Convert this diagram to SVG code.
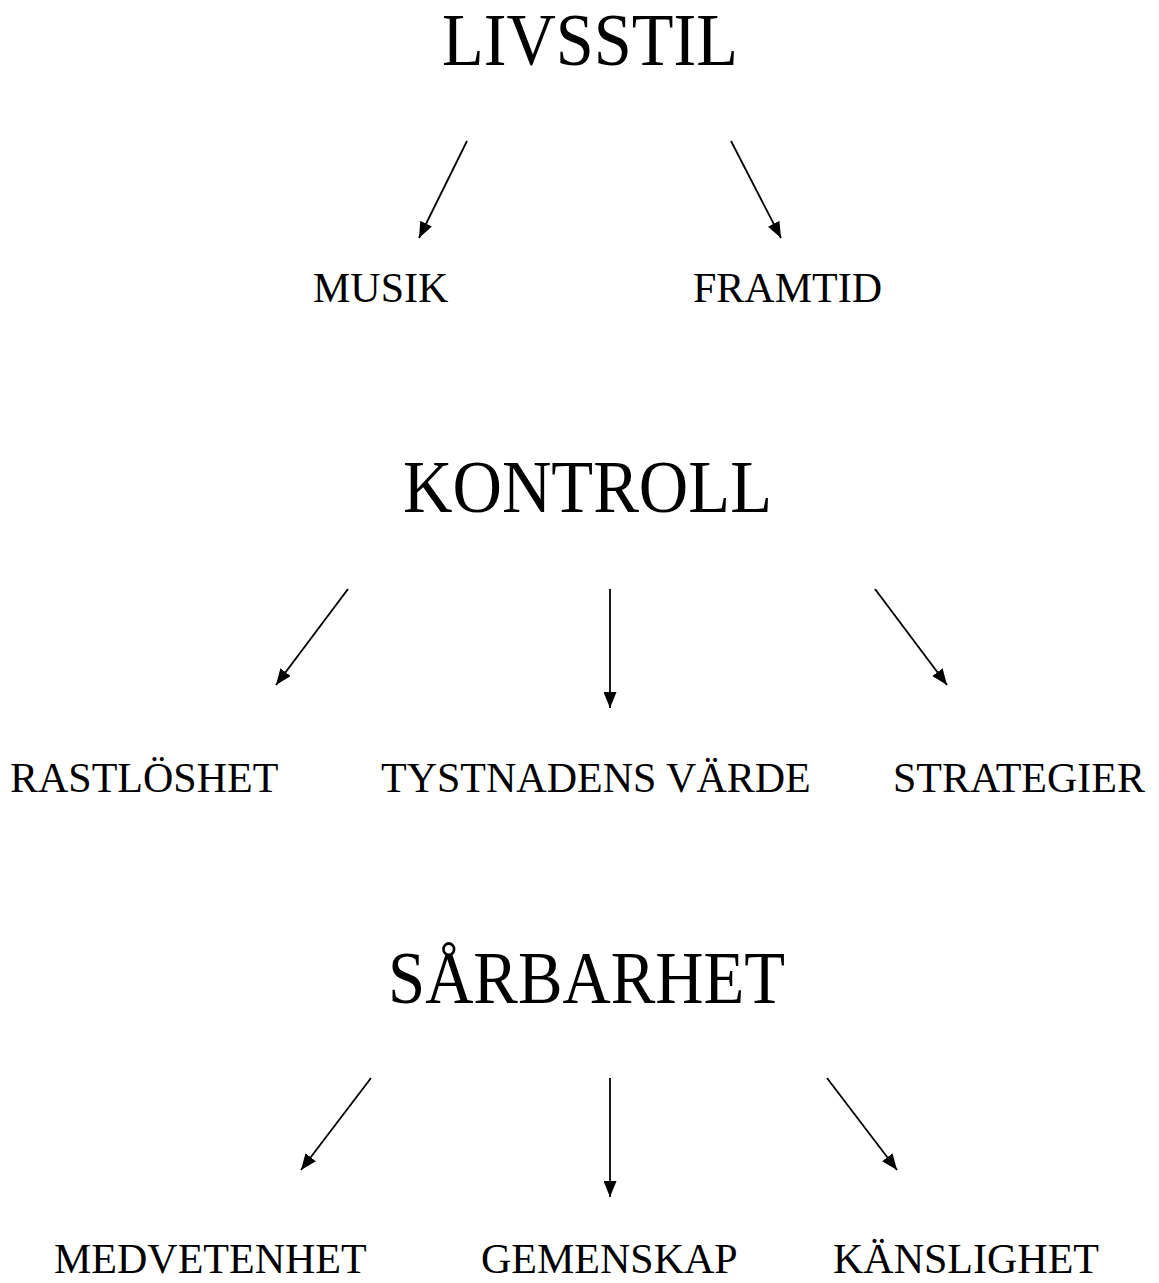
<svg xmlns="http://www.w3.org/2000/svg" width="1159" height="1283" viewBox="0 0 1159 1283">
<defs>
<marker id="ah" viewBox="0 0 16 13" refX="16" refY="6.5" markerWidth="16" markerHeight="13" markerUnits="userSpaceOnUse" orient="auto"><path d="M0,0 L16,6.5 L0,13 Z" fill="#000"/></marker>
<style>
text{font-family:"Liberation Serif","Times New Roman",serif;fill:#000}
.t{font-size:75px}
.s{font-size:42px}
.c line{stroke:#000;stroke-width:1.8;marker-end:url(#ah)}
</style>
</defs>
<rect width="1159" height="1283" fill="#fff"/>
<g id="livsstil"><text class="t" x="442" y="65" textLength="296" lengthAdjust="spacingAndGlyphs">LIVSSTIL</text></g>
<g id="musik"><text class="s" x="313" y="302">MUSIK</text></g>
<g id="framtid"><text class="s" x="693" y="302">FRAMTID</text></g>
<g id="kontroll"><text class="t" x="403" y="512" textLength="369" lengthAdjust="spacingAndGlyphs">KONTROLL</text></g>
<g id="rastloshet"><text class="s" x="10" y="792">RASTLÖSHET</text></g>
<g id="tystnadens"><text class="s" x="381" y="792">TYSTNADENS VÄRDE</text></g>
<g id="strategier"><text class="s" x="893" y="792">STRATEGIER</text></g>
<g id="sarbarhet"><text class="t" x="388" y="1003" textLength="397" lengthAdjust="spacingAndGlyphs">SÅRBARHET</text></g>
<g id="medvetenhet"><text class="s" x="54" y="1273">MEDVETENHET</text></g>
<g id="gemenskap"><text class="s" x="481" y="1273">GEMENSKAP</text></g>
<g id="kanslighet"><text class="s" x="833" y="1273">KÄNSLIGHET</text></g>
<g id="connectors" class="c">
<line x1="467" y1="141" x2="419" y2="238"/>
<line x1="731" y1="141" x2="781" y2="238"/>
<line x1="348" y1="589" x2="276" y2="685"/>
<line x1="610" y1="589" x2="610" y2="708"/>
<line x1="875" y1="589" x2="947" y2="685"/>
<line x1="371" y1="1078" x2="301" y2="1170"/>
<line x1="610" y1="1078" x2="610" y2="1197"/>
<line x1="827" y1="1078" x2="897" y2="1170"/>
</g>
</svg>
